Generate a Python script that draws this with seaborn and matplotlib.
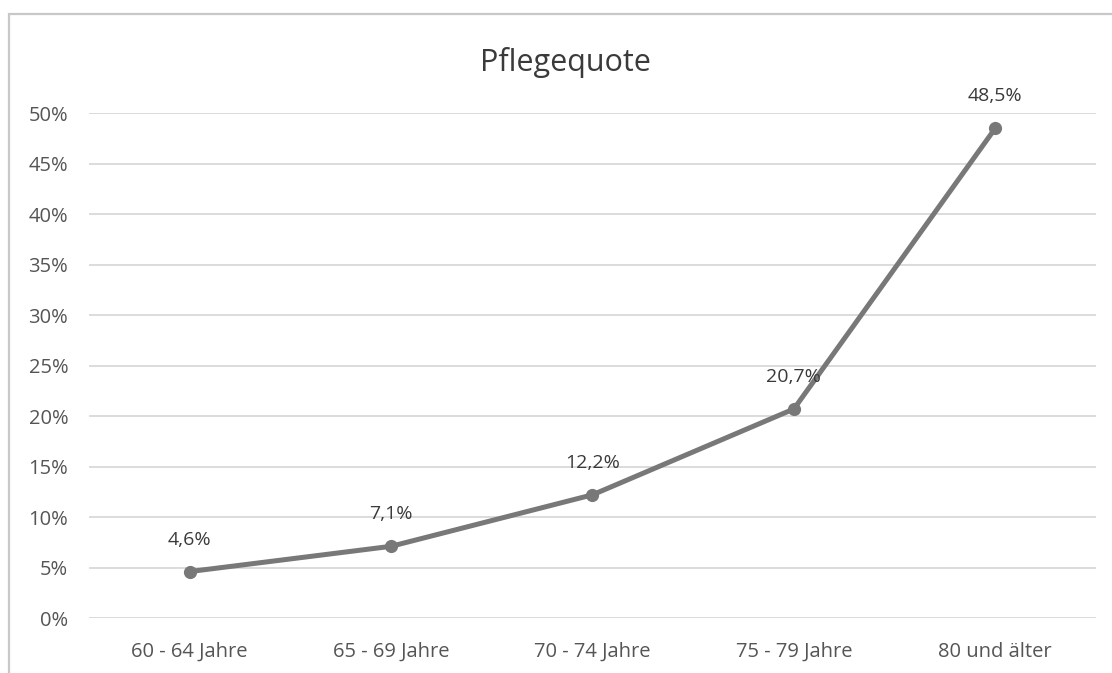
import numpy as np
import pandas as pd
import matplotlib
matplotlib.use('Agg')
import matplotlib.pyplot as plt
import matplotlib.patches as patches
import seaborn as sns

# Daten
kategorien = ['60 - 64 Jahre', '65 - 69 Jahre', '70 - 74 Jahre', '75 - 79 Jahre', '80 und älter']
quote = [4.6, 7.1, 12.2, 20.7, 48.5]
y_ticks = [0, 5, 10, 15, 20, 25, 30, 35, 40, 45, 50]
titel = 'Pflegequote'

sns.set_theme(style='white')
plt.rcParams['font.family'] = ['Open Sans', 'DejaVu Sans']

df = pd.DataFrame({'gruppe': kategorien, 'quote': quote})

fig = plt.figure(figsize=(11.12, 6.73), dpi=100)
ax = fig.add_axes([0.080, 0.0817, 0.9056, 0.7503])

# Rahmen um das Diagramm
rahmen = patches.Rectangle((9 / 1112, -0.1), 1.2, 1.1 - 14 / 673, transform=fig.transFigure,
                           fill=False, edgecolor='#c8c8c8', linewidth=1.6, clip_on=False)
fig.patches.append(rahmen)

for t in y_ticks:
    ax.axhline(t, color='#d9d9d9', linewidth=1.3, zorder=0)

sns.lineplot(data=df, x='gruppe', y='quote', ax=ax, color='#787878', linewidth=3.6,
             marker='o', markersize=9.5, markeredgewidth=0, sort=False, zorder=3)

for i, v in enumerate(quote):
    ax.annotate(f'{v:.1f}'.replace('.', ',') + '%', (i, v), xytext=(0, 23),
                textcoords='offset points', ha='center', va='center',
                fontsize=14, color='#3a3a3a')

ax.set_xlim(-0.5, len(kategorien) - 0.5)
ax.set_ylim(0, 50)
ax.set_yticks(y_ticks)
ax.set_yticklabels([f'{t}%' for t in y_ticks])
ax.set_xlabel('')
ax.set_ylabel('')
ax.tick_params(axis='y', length=0, pad=15, labelsize=14.5, labelcolor='#555555')
ax.tick_params(axis='x', length=0, pad=17, labelsize=14.5, labelcolor='#555555')
for s in ax.spines.values():
    s.set_visible(False)

fig.text(565 / 1112, 1 - 62 / 673, titel, ha='center', va='center', fontsize=22, color='#3a3a3a')

fig.savefig('out.png', dpi=100)
